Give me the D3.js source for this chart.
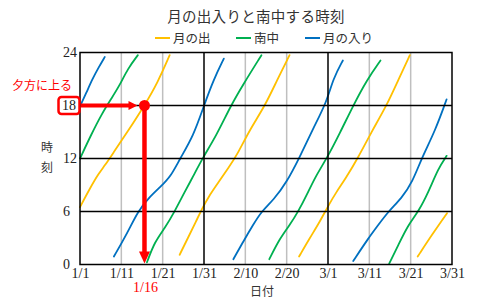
<!DOCTYPE html>
<html>
<head>
<meta charset="utf-8">
<script src="https://cdn.jsdelivr.net/npm/d3@7"></script>
<style>
  body { margin: 0; background: #fff; }
  svg { display: block; }
  .jp { font-family: "Noto Sans CJK JP", sans-serif; }
  .num { font-family: "Liberation Serif", "DejaVu Serif", serif; }
</style>
</head>
<body>
<svg id="chart" width="483" height="298"></svg>
<script>
// days counted from 1/1 (2024), hours 0-24
const dayTicks = [0, 10, 20, 30, 40, 50, 60, 70, 80, 90];
const dayLabels = ["1/1", "1/11", "1/21", "1/31", "2/10", "2/20", "3/1", "3/11", "3/21", "3/31"];
const hourTicks = [0, 6, 12, 18, 24];
const monthLines = [30, 60];

const moonrise = [
    [[0, 6.5], [2.5, 8.7], [4.5, 10.3], [6, 11.2], [8, 12.6], [11.6, 15.1], [15.6, 18], [18.8, 20.6], [21.7, 23.7]],
    [[24.1, 1.1], [26.1, 3], [28.1, 4.9], [29.4, 6.2], [31, 7.6], [33.5, 9.3], [36, 11], [38, 12.4], [41, 15.2], [44.8, 18], [47.6, 20.8], [50.7, 23.7]],
    [[53, 0.9], [55.6, 3], [58.1, 4.9], [60, 6.6], [62, 8.2], [64.1, 9.6], [67.3, 12.1], [70.5, 15], [74.2, 18], [77, 20.9], [79.8, 23.7]],
    [[81.7, 0.9], [85.2, 3.4], [88.8, 5.8]]
];
const transit = [
    [[0, 12], [2.7, 14.7], [5.2, 17], [7.6, 18.8], [9.5, 20.2], [11.6, 22.2], [14, 23.7]],
    [[16.2, 0.25], [18.1, 2.6], [20.5, 4.1], [22.9, 6], [25.3, 8.2], [27.4, 10], [29.6, 12], [33, 14.6], [36.5, 18], [39.5, 20.4], [43.9, 23.7]],
    [[45.8, 0.6], [48.4, 3], [50.8, 4.5], [52.8, 6], [54.9, 7.9], [57, 10], [59.7, 12], [62.9, 14.9], [66.1, 18], [69.4, 20.9], [72.7, 23.1]],
    [[74.8, 0.1], [77, 2.2], [79.4, 4.5], [81.9, 6], [84.3, 8.2], [86.7, 10.9], [88.7, 12.3]]
];
const moonset = [
    [[0, 17.9], [1.5, 19.4], [3, 21], [4.5, 22.3], [6, 23.5]],
    [[8.2, 0.9], [11.6, 3.7], [14, 6], [16.5, 7.5], [19.5, 8.8], [22, 10], [24.2, 12], [27.4, 14.5], [30, 18], [32.3, 20.9], [34.8, 23.3]],
    [[37.1, 0.6], [39.5, 2.6], [41.9, 4.5], [43.9, 6], [46.8, 7.3], [50, 9.3], [53.2, 12.2], [56.4, 15.4], [59.6, 18.3], [61.3, 21.1], [63.6, 23.1]],
    [[66.1, 0.4], [69.8, 3], [72.2, 4.5], [74.6, 6], [77.8, 7.5], [80.4, 9.3], [82.7, 12.1], [85.9, 15.1], [88.7, 18.7]]
];

const seriesNames = ["月の出", "南中", "月の入り"];
const seriesColors = ["#FFC000", "#00B050", "#0070C0"];

// annotation: moonrise at 18:00 on 1/16
const noteDay = 15.6;
const noteHour = 18;
const noteText = "夕方に上る";
const noteDayLabel = "1/16";

const svg = d3.select("#chart");
const margin = { top: 52.5, right: 31, bottom: 33.5, left: 80 };
const width = 483 - margin.left - margin.right;
const height = 298 - margin.top - margin.bottom;

const x = d3.scaleLinear().domain([0, 90]).range([0, width]);
const y = d3.scaleLinear().domain([0, 24]).range([height, 0]);

svg.append("text")
    .attr("class", "jp")
    .attr("x", 256)
    .attr("y", 22)
    .attr("text-anchor", "middle")
    .attr("font-size", 14.5)
    .attr("letter-spacing", 0.3)
    .attr("fill", "#333")
    .text("月の出入りと南中する時刻");

const legendX = [155, 236, 305];
seriesNames.forEach((name, i) => {
    svg.append("line")
        .attr("x1", legendX[i]).attr("x2", legendX[i] + 15)
        .attr("y1", 38).attr("y2", 38)
        .attr("stroke", seriesColors[i])
        .attr("stroke-width", 2);
    svg.append("text")
        .attr("class", "jp")
        .attr("x", legendX[i] + 18)
        .attr("y", 42.5)
        .attr("font-size", 12.5)
        .attr("fill", "#333")
        .text(name);
});

const chartArea = svg.append("g")
    .attr("transform", `translate(${margin.left},${margin.top})`);

// gray day gridlines
chartArea.selectAll(".vgrid")
    .data(dayTicks.filter(d => d > 0 && d < 90 && !monthLines.includes(d)))
    .join("line")
    .attr("class", "vgrid")
    .attr("x1", d => x(d)).attr("x2", d => x(d))
    .attr("y1", 0).attr("y2", height)
    .attr("stroke", "#BFBFBF")
    .attr("stroke-width", 1.5);

const line = d3.line()
    .x(d => x(d[0]))
    .y(d => y(d[1]))
    .curve(d3.curveBasis);

[moonrise, transit, moonset].forEach((segments, i) => {
    chartArea.selectAll(".s" + i)
        .data(segments)
        .join("path")
        .attr("class", "s" + i)
        .attr("d", line)
        .attr("fill", "none")
        .attr("stroke", seriesColors[i])
        .attr("stroke-width", 1.8)
        .attr("stroke-linecap", "round");
});

// black gridlines
chartArea.selectAll(".hgrid")
    .data(hourTicks.filter(d => d > 0 && d < 24))
    .join("line")
    .attr("class", "hgrid")
    .attr("x1", 0).attr("x2", width)
    .attr("y1", d => y(d)).attr("y2", d => y(d))
    .attr("stroke", "#000")
    .attr("stroke-width", 1.5);
chartArea.selectAll(".mgrid")
    .data(monthLines)
    .join("line")
    .attr("class", "mgrid")
    .attr("x1", d => x(d)).attr("x2", d => x(d))
    .attr("y1", 0).attr("y2", height)
    .attr("stroke", "#000")
    .attr("stroke-width", 1.5);
chartArea.append("rect")
    .attr("width", width)
    .attr("height", height)
    .attr("fill", "none")
    .attr("stroke", "#000")
    .attr("stroke-width", 1.5);

const xAxis = d3.axisBottom(x)
    .tickValues(dayTicks)
    .tickFormat((d, i) => dayLabels[i])
    .tickSize(0)
    .tickPadding(4);
const yAxis = d3.axisLeft(y)
    .tickValues(hourTicks)
    .tickSize(0)
    .tickPadding(17);

const xAxisG = chartArea.append("g")
    .attr("transform", `translate(0,${height})`)
    .call(xAxis);
const yAxisG = chartArea.append("g").call(yAxis);
[xAxisG, yAxisG].forEach(g => {
    g.select(".domain").remove();
    g.selectAll("text")
        .attr("class", "num")
        .attr("font-size", 14)
        .attr("fill", "#222");
});
yAxisG.selectAll("text").attr("text-anchor", "start");

svg.append("text")
    .attr("class", "jp")
    .attr("x", 262)
    .attr("y", 296)
    .attr("text-anchor", "middle")
    .attr("font-size", 12)
    .attr("fill", "#333")
    .text("日付");
svg.append("text")
    .attr("class", "jp")
    .attr("x", 47)
    .attr("y", 152)
    .attr("text-anchor", "middle")
    .attr("font-size", 12)
    .attr("fill", "#333")
    .text("時");
svg.append("text")
    .attr("class", "jp")
    .attr("x", 47)
    .attr("y", 172)
    .attr("text-anchor", "middle")
    .attr("font-size", 12)
    .attr("fill", "#333")
    .text("刻");

// red annotation
const red = "#FF0000";
const px = x(noteDay), py = y(noteHour);
chartArea.append("line")
    .attr("x1", 1).attr("x2", px - 14)
    .attr("y1", py).attr("y2", py)
    .attr("stroke", red).attr("stroke-width", 4);
chartArea.append("path")
    .attr("d", `M${px - 7},${py} L${px - 16},${py - 4.5} L${px - 16},${py + 4.5} Z`)
    .attr("fill", red);
chartArea.append("line")
    .attr("x1", px).attr("x2", px)
    .attr("y1", py).attr("y2", height - 10)
    .attr("stroke", red).attr("stroke-width", 4.5);
chartArea.append("path")
    .attr("d", `M${px},${height - 1} L${px - 5.5},${height - 13} L${px + 5.5},${height - 13} Z`)
    .attr("fill", red);
chartArea.append("circle")
    .attr("cx", px).attr("cy", py)
    .attr("r", 5.5)
    .attr("fill", red);

svg.append("rect")
    .attr("x", 58.5).attr("y", margin.top + py - 8.5)
    .attr("width", 21).attr("height", 17)
    .attr("rx", 3)
    .attr("fill", "#fff")
    .attr("stroke", red)
    .attr("stroke-width", 2.5);
svg.append("text")
    .attr("class", "num")
    .attr("x", 69)
    .attr("y", margin.top + py + 4.8)
    .attr("text-anchor", "middle")
    .attr("font-size", 14)
    .attr("fill", "#222")
    .text("18");
svg.append("text")
    .attr("class", "jp")
    .attr("x", 42)
    .attr("y", 90)
    .attr("text-anchor", "middle")
    .attr("font-size", 12)
    .attr("fill", red)
    .text(noteText);
svg.append("text")
    .attr("class", "num")
    .attr("x", margin.left + px + 1)
    .attr("y", 292)
    .attr("text-anchor", "middle")
    .attr("font-size", 14)
    .attr("fill", red)
    .text(noteDayLabel);
</script>
</body>
</html>
